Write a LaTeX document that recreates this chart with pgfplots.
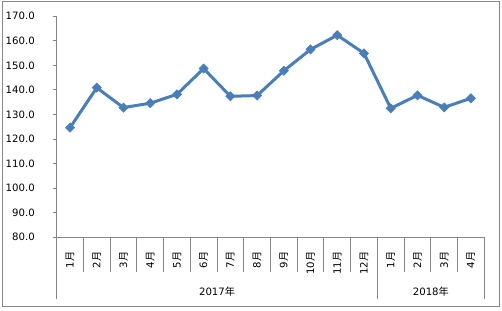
\documentclass[border=0pt]{standalone}
\usepackage{pgfplots}
\pgfplotsset{compat=1.18}
\usepackage{fontspec}
\setmainfont{DejaVu Sans}
\newfontfamily\cjk{Noto Sans CJK SC}
\definecolor{linecol}{RGB}{74,126,187}
\definecolor{axgray}{RGB}{134,134,134}
\newcommand\lbl{\fontsize{7.6}{9}\selectfont}
\begin{document}
\begin{tikzpicture}
\useasboundingbox (0,0) rectangle (376.5pt,232.5pt);
\draw[axgray, line width=0.75pt] (2pt,3pt) rectangle (374.3pt,231.4pt);
\begin{axis}[
  at={(42.5pt,54.6pt)}, anchor=south west,
  scale only axis, width=320.7pt, height=165.7pt,
  xmin=0.5, xmax=16.5, ymin=80, ymax=170,
  axis x line*=bottom, axis y line*=left,
  axis line style={axgray, line width=0.75pt, -},
  tick align=outside,
  ytick={80,90,...,170},
  ytick style={axgray, line width=0.75pt, /pgfplots/major tick length=3pt},
  yticklabel style={/pgf/number format/fixed, /pgf/number format/fixed zerofill, /pgf/number format/precision=1, /pgf/number format/assume math mode=true, anchor=east, inner sep=0pt},
  xtick={0.5,1.5,...,16.5},
  x tick label as interval,
  xticklabels={{1\cjk 月},{2\cjk 月},{3\cjk 月},{4\cjk 月},{5\cjk 月},{6\cjk 月},{7\cjk 月},{8\cjk 月},{9\cjk 月},{10\cjk 月},{11\cjk 月},{12\cjk 月},{1\cjk 月},{2\cjk 月},{3\cjk 月},{4\cjk 月}},
  xtick style={axgray, line width=0.75pt, /pgfplots/major tick length=26.25pt, /pgfplots/minor tick length=46.5pt},
  minor xtick={0.5,12.5,16.5},
  tick label style={font=\lbl, text=black},
  xticklabel style={rotate=90, anchor=east, inner sep=0pt},
  xticklabel shift=6.5pt,
  yticklabel shift=12pt,
  clip=false,
]
\addplot[linecol, line width=2.25pt, mark=square*, mark size=2.4pt,
  mark options={rotate=45, line width=0.5pt, fill=linecol, solid}]
  coordinates {
  (1,124.6) (2,140.9) (3,132.8) (4,134.6) (5,138.2) (6,148.7) (7,137.4) (8,137.7)
  (9,147.8) (10,156.5) (11,162.3) (12,154.9) (13,132.5) (14,137.8) (15,132.9) (16,136.6)
  };
\node[font=\lbl, yshift=-41.1pt] at (axis cs:6.5,80) {2017\cjk 年};
\node[font=\lbl, yshift=-41.1pt] at (axis cs:14.5,80) {2018\cjk 年};
\end{axis}
\end{tikzpicture}
\end{document}
